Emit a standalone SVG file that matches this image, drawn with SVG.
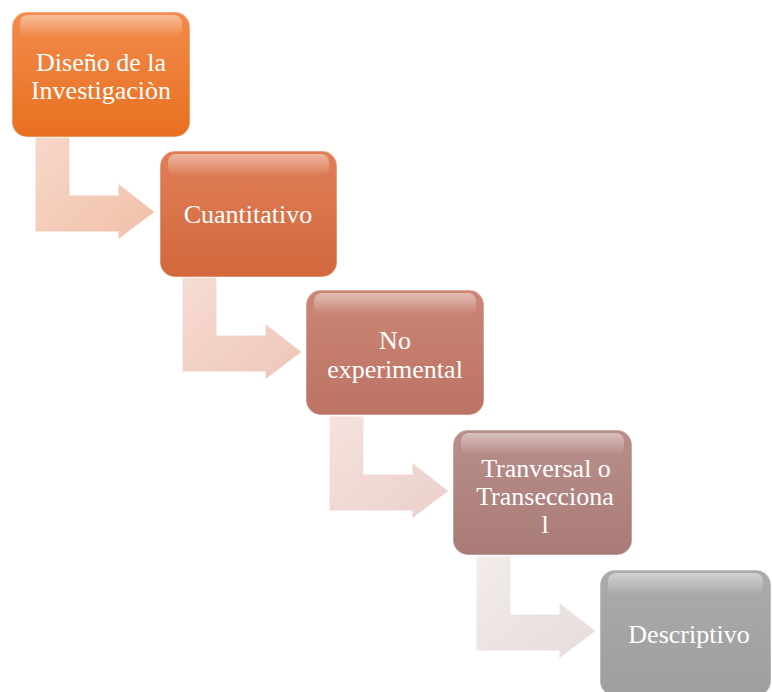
<svg xmlns="http://www.w3.org/2000/svg" width="772" height="692" viewBox="0 0 772 692">
<defs>
<linearGradient id="g1" x1="0" y1="0" x2="0" y2="1"><stop offset="0" stop-color="#F28B4C"/><stop offset="1" stop-color="#E8701F"/></linearGradient>
<linearGradient id="g2" x1="0" y1="0" x2="0" y2="1"><stop offset="0" stop-color="#E07E58"/><stop offset="1" stop-color="#D2683C"/></linearGradient>
<linearGradient id="g3" x1="0" y1="0" x2="0" y2="1"><stop offset="0" stop-color="#CB8676"/><stop offset="1" stop-color="#BC7363"/></linearGradient>
<linearGradient id="g4" x1="0" y1="0" x2="0" y2="1"><stop offset="0" stop-color="#B98E8A"/><stop offset="1" stop-color="#A97B77"/></linearGradient>
<linearGradient id="g5" x1="0" y1="0" x2="0" y2="1"><stop offset="0" stop-color="#ABABAB"/><stop offset="1" stop-color="#9E9E9E"/></linearGradient>
<linearGradient id="a1" x1="0" y1="0" x2="1" y2="1"><stop offset="0" stop-color="#F7D8CA"/><stop offset="1" stop-color="#F1BFA8"/></linearGradient>
<linearGradient id="a2" x1="0" y1="0" x2="1" y2="1"><stop offset="0" stop-color="#F6DCD3"/><stop offset="1" stop-color="#EEC6B8"/></linearGradient>
<linearGradient id="a3" x1="0" y1="0" x2="1" y2="1"><stop offset="0" stop-color="#F5E2DE"/><stop offset="1" stop-color="#EBCFCA"/></linearGradient>
<linearGradient id="a4" x1="0" y1="0" x2="1" y2="1"><stop offset="0" stop-color="#F3ECEB"/><stop offset="1" stop-color="#E5DCDB"/></linearGradient>
<linearGradient id="shine" x1="0" y1="0" x2="0" y2="1"><stop offset="0" stop-color="#FFFFFF" stop-opacity="0.45"/><stop offset="1" stop-color="#FFFFFF" stop-opacity="0"/></linearGradient>
</defs>
<style>
.box{stroke:#FFFFFF;stroke-opacity:0.35;stroke-width:1.5}
.hl{fill:url(#shine)}
.arr{stroke:#FFFFFF;stroke-width:1.5;stroke-opacity:0.7}
text{font-family:"Liberation Serif","Times New Roman",serif;font-size:26px;fill:#FFFFFF;text-anchor:middle}
</style>
<g id="connectors">
<path class="arr" fill="url(#a1)" d="M35,137 H70 V195 H118 V183 L155,212 L118,240 V232 H35 Z"/>
<path class="arr" fill="url(#a2)" d="M182,277 H217 V335 H265 V323 L302,352 L265,380 V372 H182 Z"/>
<path class="arr" fill="url(#a3)" d="M329,416 H364 V474 H412 V462 L449,491 L412,519 V511 H329 Z"/>
<path class="arr" fill="url(#a4)" d="M476,556 H511 V614 H559 V602 L596,631 L559,659 V651 H476 Z"/>
</g>
<g id="n1">
<rect class="box" x="12" y="12" width="178" height="125" rx="15" fill="url(#g1)"/>
<rect class="hl" x="20" y="15" width="162" height="22" rx="8"/>
<text x="101" y="71">Diseño de la</text>
<text x="101" y="99">Investigaciòn</text>
</g>
<g id="n2">
<rect class="box" x="160" y="151" width="177" height="126" rx="15" fill="url(#g2)"/>
<rect class="hl" x="168" y="154" width="161" height="22" rx="8"/>
<text x="248" y="223">Cuantitativo</text>
</g>
<g id="n3">
<rect class="box" x="306" y="290" width="178" height="125" rx="15" fill="url(#g3)"/>
<rect class="hl" x="314" y="293" width="162" height="22" rx="8"/>
<text x="395" y="349">No</text>
<text x="395" y="378">experimental</text>
</g>
<g id="n4">
<rect class="box" x="453" y="430" width="179" height="125" rx="15" fill="url(#g4)"/>
<rect class="hl" x="461" y="433" width="163" height="22" rx="8"/>
<text x="546" y="477">Tranversal o</text>
<text x="545" y="505">Transecciona</text>
<text x="545" y="533">l</text>
</g>
<g id="n5">
<rect class="box" x="600" y="570" width="171" height="126" rx="15" fill="url(#g5)"/>
<rect class="hl" x="608" y="573" width="155" height="22" rx="8"/>
<text x="689" y="643">Descriptivo</text>
</g>
</svg>
